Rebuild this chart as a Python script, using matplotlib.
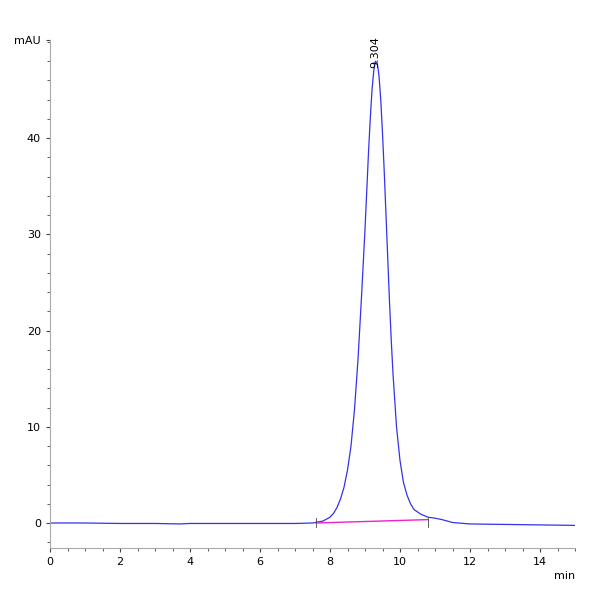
import matplotlib.pyplot as plt
from matplotlib.ticker import MultipleLocator

time_min = [0, 1, 2, 3, 3.7, 4, 5, 6, 7, 7.5, 7.8, 8.0, 8.1, 8.2, 8.3, 8.4, 8.5, 8.6,
            8.7, 8.8, 8.9, 9.0, 9.05, 9.1, 9.15, 9.2, 9.25, 9.3, 9.35, 9.4, 9.45,
            9.5, 9.55, 9.6, 9.65, 9.7, 9.75, 9.8, 9.9, 10.0, 10.1, 10.2, 10.3, 10.4,
            10.6, 10.8, 11.0, 11.2, 11.5, 12, 13, 14, 15]
signal_mau = [0.0, 0.0, -0.05, -0.05, -0.1, -0.05, -0.05, -0.05, -0.05, 0.0, 0.2, 0.6,
              1.0, 1.6, 2.5, 3.7, 5.5, 8.0, 11.8, 17.0, 23.5, 30.5, 34.5, 38.5, 42.0,
              45.0, 47.0, 48.0, 47.8, 46.5, 44.0, 40.5, 36.5, 32.0, 27.5, 23.0, 19.0,
              15.5, 10.0, 6.5, 4.2, 2.9, 2.0, 1.4, 0.9, 0.6, 0.5, 0.35, 0.05, -0.1,
              -0.15, -0.2, -0.25]
baseline_t = [7.6, 10.8]
baseline_v = [0.0, 0.35]
peak_rt = 9.304

fig = plt.figure(figsize=(6, 6), dpi=100)
ax = fig.add_axes([50 / 600, 52 / 600, 525 / 600, 508 / 600])
ax.plot(time_min, signal_mau, color='#3333ee', lw=0.9)
ax.plot(baseline_t, baseline_v, color='#ee22cc', lw=1.0)
ax.text(peak_rt, 47.3, f'{peak_rt:.3f}', rotation=90, ha='center', va='bottom', fontsize=8)
for t in baseline_t:
    ax.plot([t, t], [-0.4, 0.5], color='#444444', lw=0.6)

ax.set_xlim(0, 15)
ax.set_ylim(-2.6, 50.2)
ax.set_xticks([0, 2, 4, 6, 8, 10, 12, 14])
ax.xaxis.set_minor_locator(MultipleLocator(0.5))
ax.set_yticks([0, 10, 20, 30, 40, 50.2])
ax.set_yticklabels(['0', '10', '20', '30', '40', 'mAU'])
ax.yaxis.set_minor_locator(MultipleLocator(2))
for s in ['top', 'right']:
    ax.spines[s].set_visible(False)
for s in ['left', 'bottom']:
    ax.spines[s].set_color('#aaaaaa')
ax.tick_params(labelsize=8, length=3, color='#444444')
ax.tick_params(which='minor', length=2, color='#444444')
ax.text(1.0, -0.045, 'min', transform=ax.transAxes, ha='right', va='top', fontsize=8)
fig.savefig('out.png')
